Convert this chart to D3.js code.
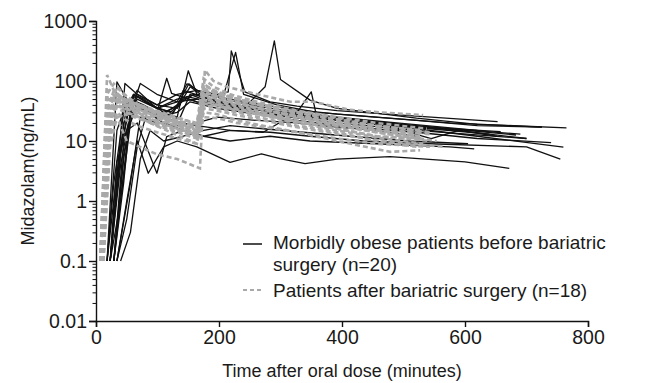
<!DOCTYPE html>
<html><head><meta charset="utf-8">
<script src="https://cdn.jsdelivr.net/npm/d3@7"></script>
<style>
body{margin:0;background:#fff}
svg{display:block}
text{font-family:"Liberation Sans",Arial,Helvetica,sans-serif;fill:#1a1a1a}
</style>
</head><body>
<svg id="chart" width="646" height="383"></svg>
<script>
// ---------- data (time in minutes, midazolam ng/mL) ----------
const xTicks = [0, 200, 400, 600, 800];
const yTicks = [0.01, 0.1, 1, 10, 100, 1000];
const yTickLabels = ["0.01", "0.1", "1", "10", "100", "1000"];
const xTitle = "Time after oral dose (minutes)";
const yTitle = "Midazolam(ng/mL)";
const legendBefore = ["Morbidly obese patients before bariatric", "surgery (n=20)"];
const legendAfter = "Patients after bariatric surgery (n=18)";

// Morbidly obese patients before bariatric surgery (n=20)
const beforeSurgery = [
  [[23,0.1],[40,8],[56,45],[67,70],[99,35],[132,45],[164,50],[197,40],[240,35],[275,80],[290,468],[300,106],[348,48],[392,35],[521,24],[620,19],[765,16.6]],
  [[18,0.1],[34,3],[50,40],[67,60],[99,40],[132,60],[164,70],[197,60],[215,66],[220,318],[242,66],[283,45],[327,38],[392,32],[521,26],[653,21]],
  [[29,0.1],[45,2],[56,30],[67,55],[99,35],[132,50],[164,60],[207,55],[227,300],[240,60],[294,40],[359,30],[456,25],[575,20],[725,17]],
  [[23,0.1],[40,6],[56,50],[77,40],[99,30],[115,111],[123,62],[164,45],[218,35],[283,28],[348,25],[435,21],[543,17],[683,12.6]],
  [[29,0.1],[45,5],[61,60],[77,50],[110,30],[137,40],[150,148],[164,60],[197,45],[262,35],[327,28],[435,22],[543,17],[700,11]],
  [[34,0.1],[50,1],[67,10],[85,2.9],[110,8],[132,10],[164,8],[218,4.4],[269,6.1],[299,5.1],[340,4.2],[392,5],[478,5.5],[600,4.5],[672,3.5]],
  [[23,0.1],[34,4.5],[50,15],[67,20],[99,2.9],[115,11.8],[142,15],[175,12],[218,10],[283,12],[348,10],[456,9],[575,8],[615,7.4]],
  [[18,0.1],[34,97],[50,50],[67,40],[99,25],[132,30],[153,45],[197,35],[262,28],[327,22],[392,18],[521,14],[620,11],[740,9.4]],
  [[23,0.1],[47,91],[67,60],[99,40],[132,35],[153,80],[175,55],[218,40],[272,32],[327,26],[392,22],[521,16],[620,12],[760,7.9]],
  [[29,0.1],[45,3],[56,30],[72,91],[99,60],[132,45],[148,90],[175,60],[218,50],[272,40],[327,33],[392,28],[521,22],[620,18],[725,17]],
  [[23,0.1],[40,1],[56,20],[67,40],[99,30],[132,25],[142,70],[186,50],[229,40],[283,32],[327,26],[392,22],[456,19],[575,16],[658,14.3]],
  [[34,0.1],[50,0.5],[67,8],[83,30],[110,20],[142,15],[175,12],[218,15],[283,14],[348,12],[435,10],[543,9],[700,8],[755,5]],
  [[23,0.1],[40,4],[56,30],[77,35],[110,20],[137,25],[153,60],[197,40],[262,30],[327,24],[392,20],[521,15],[700,11]],
  [[29,0.1],[45,10],[61,40],[88,30],[121,25],[140,55],[164,45],[207,38],[272,32],[337,26],[413,22],[543,17],[690,13]],
  [[18,0.1],[34,15],[50,45],[77,35],[110,28],[132,40],[159,60],[197,45],[251,35],[316,28],[392,23],[456,20],[545,11],[590,15],[652,12]],
  [[23,0.1],[45,20],[67,50],[99,35],[126,30],[151,90],[164,70],[207,50],[262,38],[327,30],[392,25],[489,20],[620,15]],
  [[34,0.1],[56,2],[72,25],[99,20],[132,18],[164,20],[197,25],[262,22],[327,20],[392,17],[456,15],[521,12]],
  [[29,0.1],[45,6],[61,35],[88,30],[121,22],[164,18],[218,15],[272,14],[327,30],[350,66],[359,25],[435,20],[521,17],[590,15]],
  [[18,0.1],[29,2],[45,30],[61,60],[88,40],[121,30],[148,55],[186,45],[229,38],[283,30],[348,25],[435,20],[543,16],[640,13]],
  [[40,0.1],[56,0.3],[72,5],[88,15],[110,10],[142,12],[175,15],[218,18],[272,16],[337,14],[413,12],[511,10],[605,9]]
];

// Patients after bariatric surgery (n=18)
const afterSurgery = [
  [[7,0.1],[18,126],[29,70],[45,45],[67,35],[99,25],[132,20],[164,16],[175,90],[191,70],[218,55],[262,40],[327,30],[392,22],[456,17],[532,13]],
  [[10,0.1],[23,20],[34,25],[50,10],[71,8],[99,6],[132,5],[169,3.5],[177,152],[191,100],[213,80],[262,60],[316,45],[354,45],[413,33],[462,30],[532,27]],
  [[7,0.1],[15,5],[29,60],[45,50],[67,40],[99,30],[132,22],[164,18],[175,60],[197,55],[229,45],[262,35],[327,26],[392,20],[456,15],[527,12]],
  [[12,0.1],[23,30],[34,80],[50,55],[67,40],[99,28],[132,20],[164,15],[175,50],[197,45],[229,38],[262,30],[327,22],[392,18],[456,14],[521,11]],
  [[8,0.1],[18,10],[29,40],[45,35],[67,30],[99,22],[132,18],[164,14],[175,70],[197,60],[229,50],[272,40],[327,30],[392,24],[456,18],[543,14]],
  [[10,0.1],[21,40],[34,60],[50,45],[67,35],[99,25],[132,19],[164,13],[175,45],[197,40],[229,32],[262,28],[327,20],[392,15],[467,11],[532,9]],
  [[7,0.1],[15,2],[25,25],[40,50],[61,40],[99,30],[132,24],[164,20],[175,110],[191,80],[218,60],[262,45],[327,32],[392,25],[456,20],[538,16]],
  [[12,0.1],[23,15],[34,50],[50,40],[67,32],[99,24],[132,18],[164,12],[175,40],[197,35],[229,30],[272,24],[327,18],[392,14],[456,10],[521,8]],
  [[9,0.1],[18,8],[34,30],[50,22],[67,18],[99,14],[132,11],[164,9],[175,30],[197,28],[229,22],[272,18],[327,14],[392,10],[478,6.6],[527,7]],
  [[7,0.1],[18,60],[29,90],[45,60],[67,42],[99,30],[132,22],[164,17],[175,85],[197,65],[229,50],[272,38],[327,28],[392,21],[456,16],[543,13]],
  [[11,0.1],[21,20],[34,40],[50,35],[67,28],[99,20],[132,16],[164,12],[175,55],[197,48],[229,40],[272,30],[327,24],[392,18],[456,14],[554,10]],
  [[8,0.1],[17,30],[29,70],[45,50],[67,38],[99,28],[132,21],[164,16],[175,65],[197,55],[229,44],[272,34],[327,26],[392,20],[456,15],[521,12]],
  [[10,0.1],[21,50],[34,45],[50,30],[67,25],[99,18],[132,14],[164,11],[175,35],[197,32],[229,27],[272,22],[327,17],[392,13],[467,10],[565,8]],
  [[7,0.1],[15,15],[25,45],[40,55],[56,45],[99,32],[132,25],[164,19],[175,75],[197,62],[229,50],[272,40],[327,30],[392,23],[456,18],[532,15]],
  [[12,0.1],[23,8],[34,25],[50,28],[67,24],[99,19],[132,15],[164,12],[175,48],[197,42],[229,35],[272,28],[327,21],[392,16],[456,12],[543,10]],
  [[9,0.1],[19,70],[32,55],[45,40],[67,30],[99,21],[132,16],[164,13],[175,58],[197,50],[229,42],[272,33],[327,25],[392,19],[456,15],[521,13]],
  [[7,0.1],[18,35],[29,50],[45,42],[67,34],[99,26],[132,20],[164,15],[175,42],[202,38],[234,33],[272,27],[327,21],[392,16],[456,12],[532,11]],
  [[10,0.1],[21,25],[32,35],[50,30],[67,26],[88,20],[121,14],[164,9],[175,25],[197,24],[229,20],[272,17],[327,14],[392,11],[456,9],[543,8]]
];

// ---------- drawing ----------
const svg = d3.select("#chart");
const x = d3.scaleLinear().domain([0, 800]).range([96, 588]);
const y = d3.scaleLog().domain([0.01, 1000]).range([321, 21]);
const FS = 19.5;

const line = d3.line().x(d => x(d[0])).y(d => y(d[1]));

svg.append("g").selectAll("path").data(beforeSurgery).join("path")
  .attr("d", line).attr("fill", "none")
  .attr("stroke", "#111").attr("stroke-width", 1.3).attr("stroke-linejoin", "round");

svg.append("g").selectAll("path").data(afterSurgery).join("path")
  .attr("d", line).attr("fill", "none")
  .attr("stroke", "#a9a9a9").attr("stroke-width", 2.6)
  .attr("stroke-dasharray", "5,3");

// y axis: minor ticks
const minor = [];
for (let e = -2; e < 3; e++) for (let k = 2; k <= 9; k++) minor.push(k * Math.pow(10, e));
svg.append("g").attr("transform", "translate(96,0)")
  .call(d3.axisLeft(y).tickValues(minor).tickSize(3.5).tickFormat(""))
  .call(g => g.select(".domain").remove())
  .call(g => g.selectAll("line").attr("stroke", "#111").attr("stroke-width", 1));

const yAx = svg.append("g").attr("transform", "translate(96,0)")
  .call(d3.axisLeft(y).tickValues(yTicks).tickSize(7).tickPadding(2)
    .tickFormat((d, i) => yTickLabels[i]));
yAx.select(".domain").attr("stroke", "#111").attr("stroke-width", 1.4);
yAx.selectAll("line").attr("stroke", "#111").attr("stroke-width", 1.4);
yAx.selectAll("text").attr("font-size", FS).attr("fill", "#1a1a1a")
  .style("font-family", "'Liberation Sans',Arial,sans-serif");

const xAx = svg.append("g").attr("transform", "translate(0,321)")
  .call(d3.axisBottom(x).tickValues(xTicks).tickSize(6).tickPadding(3).tickFormat(d3.format("d")));
xAx.select(".domain").attr("stroke", "#111").attr("stroke-width", 1.4);
xAx.selectAll("line").attr("stroke", "#111").attr("stroke-width", 1.4);
xAx.selectAll("text").attr("font-size", FS).attr("fill", "#1a1a1a")
  .style("font-family", "'Liberation Sans',Arial,sans-serif");

svg.append("text").attr("x", (x(0) + x(800)) / 2).attr("y", 377)
  .attr("text-anchor", "middle").attr("font-size", 18).text(xTitle);

svg.append("text").attr("transform", "translate(34,171) rotate(-90)")
  .attr("text-anchor", "middle").attr("font-size", 18).text(yTitle);

// legend
const lg = svg.append("g");
lg.append("line").attr("x1", 243).attr("x2", 262).attr("y1", 244).attr("y2", 244)
  .attr("stroke", "#111").attr("stroke-width", 1.5);
lg.append("text").attr("x", 273).attr("y", 249).attr("font-size", 19).text(legendBefore[0]);
lg.append("text").attr("x", 273).attr("y", 271).attr("font-size", 19).text(legendBefore[1]);
lg.append("line").attr("x1", 243).attr("x2", 263).attr("y1", 290).attr("y2", 290)
  .attr("stroke", "#a9a9a9").attr("stroke-width", 1.8).attr("stroke-dasharray", "4,3");
lg.append("text").attr("x", 273).attr("y", 297).attr("font-size", 19).text(legendAfter);
</script>
</body></html>
